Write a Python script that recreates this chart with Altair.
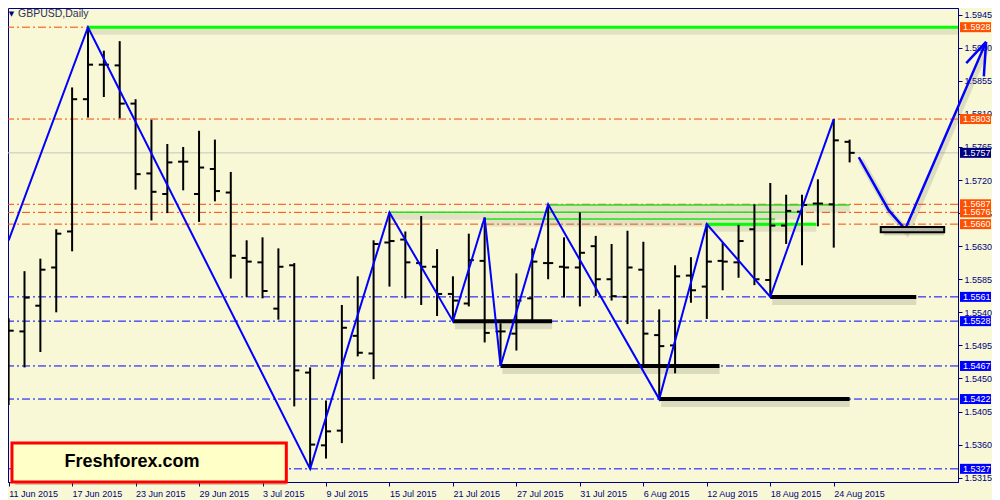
import json
import altair as alt
import pandas as pd

# ---------------- data ----------------
date_labels = ["11 Jun 2015", "17 Jun 2015", "23 Jun 2015", "29 Jun 2015", "3 Jul 2015",
               "9 Jul 2015", "15 Jul 2015", "21 Jul 2015", "27 Jul 2015", "31 Jul 2015",
               "6 Aug 2015", "12 Aug 2015", "18 Aug 2015", "24 Aug 2015"]
date_tick_bars = [0, 4, 8, 12, 16, 20, 24, 28, 32, 36, 40, 44, 48, 52]

bar_open = [1.5515, 1.5514, 1.5549, 1.5601, 1.5650, 1.5830, 1.5877, 1.5876, 1.5824, 1.5729,
            1.5701, 1.5745, 1.5701, 1.5735, 1.5703, 1.5614, 1.5608, 1.5545, 1.5604, 1.5458,
            1.5359, 1.5379, 1.5508, 1.5484, 1.5635, 1.5639, 1.5607, 1.5602, 1.5565, 1.5552,
            1.5610, 1.5514, 1.5511, 1.5559, 1.5607, 1.5602, 1.5601, 1.5630, 1.5585, 1.5561,
            1.5598, 1.5509, 1.5495, 1.5590, 1.5575, 1.5610, 1.5608, 1.5653, 1.5584, 1.5658,
            1.5677, 1.5688, 1.5687, 1.5772]
bar_high = [1.5532, 1.5596, 1.5613, 1.5653, 1.5846, 1.5928, 1.5896, 1.5909, 1.5830, 1.5802,
            1.5769, 1.5765, 1.5787, 1.5775, 1.5731, 1.5638, 1.5642, 1.5627, 1.5607, 1.5465,
            1.5420, 1.5550, 1.5589, 1.5638, 1.5676, 1.5650, 1.5671, 1.5626, 1.5589, 1.5647,
            1.5669, 1.5525, 1.5593, 1.5627, 1.5687, 1.5642, 1.5676, 1.5644, 1.5633, 1.5651,
            1.5636, 1.5544, 1.5604, 1.5615, 1.5660, 1.5635, 1.5659, 1.5687, 1.5716, 1.5700,
            1.5700, 1.5721, 1.5803, 1.5775]
bar_low = [1.5414, 1.5465, 1.5486, 1.5540, 1.5623, 1.5805, 1.5833, 1.5804, 1.5707, 1.5665,
           1.5675, 1.5706, 1.5663, 1.5691, 1.5586, 1.5561, 1.5559, 1.5530, 1.5412, 1.5327,
           1.5341, 1.5362, 1.5480, 1.5449, 1.5575, 1.5559, 1.5550, 1.5535, 1.5528, 1.5548,
           1.5499, 1.5467, 1.5488, 1.5526, 1.5585, 1.5560, 1.5548, 1.5562, 1.5556, 1.5524,
           1.5466, 1.5422, 1.5457, 1.5553, 1.5531, 1.5570, 1.5587, 1.5577, 1.5561, 1.5633,
           1.5604, 1.5657, 1.5628, 1.5744]
bar_close = [1.5515, 1.5560, 1.5598, 1.5647, 1.5830, 1.5877, 1.5877, 1.5824, 1.5728, 1.5704,
             1.5744, 1.5745, 1.5737, 1.5705, 1.5617, 1.5609, 1.5569, 1.5602, 1.5461, 1.5360,
             1.5378, 1.5519, 1.5485, 1.5633, 1.5637, 1.5608, 1.5602, 1.5565, 1.5556, 1.5611,
             1.5512, 1.5514, 1.5556, 1.5609, 1.5607, 1.5601, 1.5621, 1.5585, 1.5562, 1.5601,
             1.5511, 1.5494, 1.5589, 1.5570, 1.5609, 1.5609, 1.5637, 1.5585, 1.5658, 1.5678,
             1.5686, 1.5688, 1.5774, 1.5757]

zigzag_bar = [0, 5, 19, 24, 28, 30, 31, 34, 41, 44, 48, 52]
zigzag_price = [1.5638, 1.5928, 1.5327, 1.5676, 1.5528, 1.5669, 1.5467, 1.5687, 1.5422,
                1.5660, 1.5561, 1.5803]

orange_levels = [1.5928, 1.5803, 1.5687, 1.5676, 1.5660]
blue_levels = [1.5561, 1.5528, 1.5467, 1.5422, 1.5327]
current_price = [1.5757]

support_from = [28, 31, 41, 48]
support_to = [34.25, 44.8, 53.0, 57.2]
support_price = [1.5528, 1.5467, 1.5422, 1.5561]

green_from = [5, 24, 30, 34, 44]
green_to = [59.83, 50.0, 48.3, 53.0, 50.9]
green_price = [1.5928, 1.5676, 1.5667, 1.5686, 1.5660]
green_kind = ["thick", "thin", "thin", "thin", "thick"]

arrow_bar = [53.58, 55.46, 56.5, 61.6]
arrow_price = [1.5751, 1.5679, 1.5653, 1.5908]
head_to_bar = [60.35, 61.46]
head_to_price = [1.5879, 1.5861]

target_bar = [54.96, 58.96]
target_price = [1.5649, 1.5656]

logo_bar = [0.21, 17.5]
logo_price = [1.5309, 1.53622]
logo_text_at = [7.77, 1.5336]

y_ticks = [1.5315, 1.5360, 1.5405, 1.5450, 1.5495, 1.5540, 1.5585, 1.5630, 1.5675,
           1.5720, 1.5765, 1.5810, 1.5855, 1.5900, 1.5945]

# ---------------- styling ----------------
BG = "#F8F8D6"
NAVY = "#000080"
ORANGE = "#FF4500"
BLUE = "#0000FF"
GREEN = "#00FF00"
FONT = "Liberation Sans"
W, H = 950, 474

XS = alt.Scale(domain=[-0.04, 59.83], nice=False, zero=False)
YS = alt.Scale(domain=[1.53091, 1.59541], nice=False, zero=False)

label_expr = json.dumps(date_labels) + "[round(datum.value / 4)]"
XA = alt.Axis(values=date_tick_bars, labelExpr=label_expr, labelAlign="left",
              labelBaseline="top", labelPadding=3, labelFlush=False, labelOverlap=False,
              tickSize=4, grid=False, title=None)
YA = alt.Axis(orient="right", values=y_ticks, format=".4f", tickSize=4, labelPadding=2,
              grid=False, title=None, labelOverlap=False, labelFlush=False)


def X(f):
    return alt.X(f, type="quantitative", scale=XS, axis=XA)


def Y(f):
    return alt.Y(f, type="quantitative", scale=YS, axis=YA)


bars = pd.DataFrame({"i": list(range(len(bar_open))), "o": bar_open, "h": bar_high,
                     "l": bar_low, "c": bar_close})

# horizontal full-width levels
cur_df = pd.DataFrame({"p": current_price})
orange_df = pd.DataFrame({"p": orange_levels})
blue_df = pd.DataFrame({"p": blue_levels})
DASH = [8, 3, 2, 3]

cur_rule = alt.Chart(cur_df).mark_rule(color="#C4C4C4", strokeWidth=1).encode(y=Y("p"))
orange_rule = alt.Chart(orange_df).mark_rule(color=ORANGE, strokeWidth=1, strokeDash=DASH).encode(y=Y("p"))
blue_rule = alt.Chart(blue_df).mark_rule(color=BLUE, strokeWidth=1, strokeDash=DASH).encode(y=Y("p"))

# green levels
green_df = pd.DataFrame({"s": green_from, "e": green_to, "p": green_price, "k": green_kind})
green_shadow = alt.Chart(green_df).mark_rule(color="#808070", opacity=0.18, strokeWidth=7, yOffset=4).encode(
    x=X("s"), x2="e", y=Y("p"))
green_thick = alt.Chart(green_df).transform_filter(alt.datum.k == "thick").mark_rule(
    color=GREEN, strokeWidth=3).encode(x=X("s"), x2="e", y=Y("p"))
green_thin = alt.Chart(green_df).transform_filter(alt.datum.k == "thin").mark_rule(
    color="#22E022", strokeWidth=1.5).encode(x=X("s"), x2="e", y=Y("p"))

# black support segments
sup_df = pd.DataFrame({"s": support_from, "e": support_to, "p": support_price})
sup_shadow = alt.Chart(sup_df).mark_rule(color="#707060", opacity=0.22, strokeWidth=8, yOffset=4, xOffset=2).encode(
    x=X("s"), x2="e", y=Y("p"))
sup_line = alt.Chart(sup_df).mark_rule(color="black", strokeWidth=4).encode(x=X("s"), x2="e", y=Y("p"))

# OHLC bars
hl = alt.Chart(bars).mark_rule(color="black", strokeWidth=2).encode(x=X("i"), y=Y("l"), y2="h")
open_tick = alt.Chart(bars).transform_calculate(a="datum.i - 0.32").mark_rule(
    color="black", strokeWidth=2).encode(x=X("a:Q"), x2="i", y=Y("o"))
close_tick = alt.Chart(bars).transform_calculate(b="datum.i + 0.32").mark_rule(
    color="black", strokeWidth=2).encode(x=X("i"), x2="b:Q", y=Y("c"))

# zigzag
zz_df = pd.DataFrame({"i": zigzag_bar, "p": zigzag_price, "n": list(range(len(zigzag_bar)))})
zigzag = alt.Chart(zz_df).mark_line(color=BLUE, strokeWidth=2).encode(x=X("i"), y=Y("p"), order="n")

# forecast arrow
arr_df = pd.DataFrame({"i": arrow_bar, "p": arrow_price, "n": list(range(len(arrow_bar)))})
arrow_shadow = alt.Chart(arr_df).mark_line(color="#707060", opacity=0.2, strokeWidth=6, xOffset=2, yOffset=3).encode(
    x=X("i"), y=Y("p"), order="n")
arrow = alt.Chart(arr_df).mark_line(color=BLUE, strokeWidth=2.5).encode(x=X("i"), y=Y("p"), order="n")
head_df = pd.DataFrame({"i": [arrow_bar[-1]] * 2, "p": [arrow_price[-1]] * 2,
                        "i2": head_to_bar, "p2": head_to_price})
head = alt.Chart(head_df).mark_rule(color=BLUE, strokeWidth=2.5).encode(
    x=X("i"), x2="i2", y=Y("p"), y2="p2")

# target box
tgt_df = pd.DataFrame({"a": [target_bar[0]], "b": [target_bar[1]],
                       "lo": [target_price[0]], "hi": [target_price[1]]})
tgt_shadow = alt.Chart(tgt_df).mark_rect(color="#707060", opacity=0.3, xOffset=3, yOffset=3).encode(
    x=X("a"), x2="b", y=Y("lo"), y2="hi")
tgt = alt.Chart(tgt_df).mark_rect(fill="#B4B4AC", stroke="black", strokeWidth=2).encode(
    x=X("a"), x2="b", y=Y("lo"), y2="hi")

# logo box
logo_df = pd.DataFrame({"a": [logo_bar[0]], "b": [logo_bar[1]],
                        "lo": [logo_price[0]], "hi": [logo_price[1]],
                        "tx": [logo_text_at[0]], "ty": [logo_text_at[1]],
                        "t": ["Freshforex.com"]})
logo_shadow = alt.Chart(logo_df).mark_rect(color="#606050", opacity=0.3, xOffset=3, yOffset=3).encode(
    x=X("a"), x2="b", y=Y("lo"), y2="hi")
logo_box = alt.Chart(logo_df).mark_rect(fill="#FFFFC8", stroke="#FF0000", strokeWidth=3).encode(
    x=X("a"), x2="b", y=Y("lo"), y2="hi")
logo_text = alt.Chart(logo_df).mark_text(font=FONT, fontSize=18, fontWeight="bold", color="black",
                                         align="center", baseline="middle").encode(
    x=X("tx"), y=Y("ty"), text="t")

# title
title_df = pd.DataFrame({"t": ["GBPUSD,Daily"], "g": ["\u25BC"]})
title_tri = alt.Chart(title_df).mark_text(font="DejaVu Sans", fontSize=7, color=NAVY, align="center",
                                          baseline="middle").encode(
    x=alt.value(3.5), y=alt.value(5.5), text="g")
title_txt = alt.Chart(title_df).mark_text(font=FONT, fontSize=10.5, color="#303058", align="left",
                                          baseline="middle").encode(
    x=alt.value(10), y=alt.value(6), text="t")

# price labels on the right axis
lab_rows = ([{"p": v, "k": "orange"} for v in orange_levels]
            + [{"p": v, "k": "blue"} for v in blue_levels]
            + [{"p": v, "k": "navy"} for v in current_price])
lab_df = pd.DataFrame(lab_rows)
lab_df["t"] = lab_df["p"].map(lambda v: f"{v:.4f}")
BOX = "M-1,-0.3226L1,-0.3226L1,0.3226L-1,0.3226Z"
lab_box = alt.Chart(lab_df).mark_point(shape=BOX, size=961, filled=True, opacity=1, strokeWidth=0).encode(
    x=alt.value(W + 17.5), y=Y("p"),
    color=alt.Color("k:N", scale=alt.Scale(domain=["orange", "blue", "navy"],
                                           range=["#FF5000", BLUE, NAVY]), legend=None))
lab_txt = alt.Chart(lab_df).mark_text(font=FONT, fontSize=9, color="white", align="left",
                                      baseline="middle").encode(
    x=alt.value(W + 5), y=Y("p"), text="t")

chart = alt.layer(
    cur_rule, orange_rule, blue_rule,
    green_shadow, green_thin, green_thick,
    sup_shadow, sup_line,
    hl, open_tick, close_tick,
    zigzag,
    arrow_shadow, arrow, head,
    tgt_shadow, tgt,
    logo_shadow, logo_box, logo_text,
    title_tri, title_txt,
    lab_box, lab_txt,
).properties(
    width=W, height=H,
    autosize=alt.AutoSizeParams(type="none"),
    padding={"left": 0, "top": 0, "right": 34, "bottom": 18},
    background=BG
).configure_view(
    stroke=NAVY, strokeWidth=1, fill=BG
).configure_axis(
    domainColor=NAVY, tickColor=NAVY, labelColor=NAVY, labelFont=FONT, labelFontSize=9,
    domainWidth=1, tickWidth=1
)

chart.save("out.html", embed_options={"renderer": "svg", "actions": False})
